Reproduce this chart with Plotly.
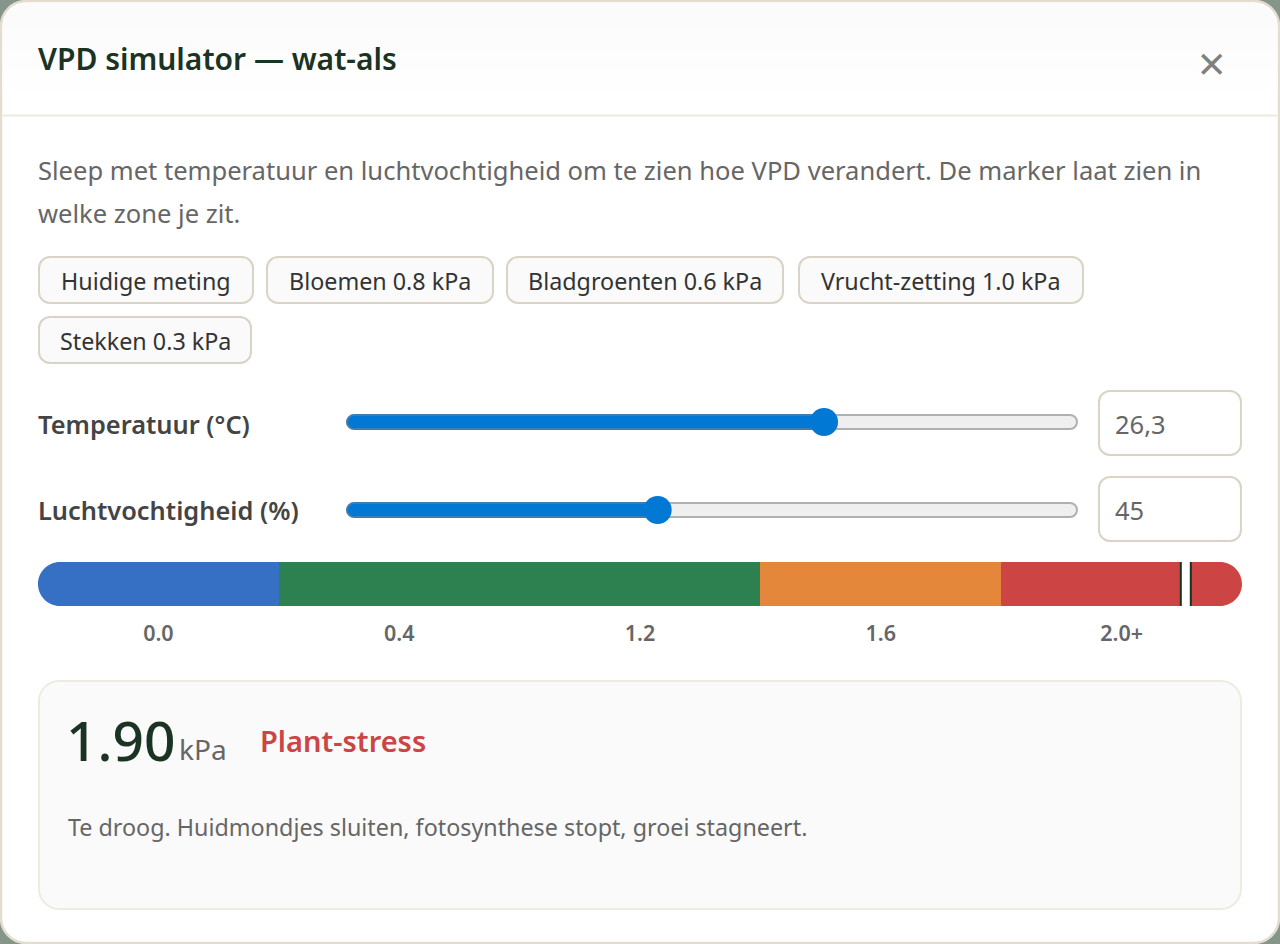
import plotly.graph_objects as go

# zones on the VPD bar (kPa)
zone_names = ["Te vochtig", "Optimaal", "Hoog", "Plant-stress"]
zone_widths = [0.4, 0.8, 0.4, 0.4]
zone_colors = ["#3570c4", "#2d8050", "#e5873a", "#cc4444"]
scale_labels = ["0.0", "0.4", "1.2", "1.6", "2.0+"]
current_vpd = 1.90

temperature = 26.3
temperature_text = "26,3"
temperature_range = [10.2, 35]
humidity = 45
humidity_text = "45"
humidity_range = [16.1, 85]

chips_row1 = ["Huidige meting", "Bloemen 0.8 kPa", "Bladgroenten 0.6 kPa", "Vrucht-zetting 1.0 kPa"]
chips_row2 = ["Stekken 0.3 kPa"]

FONT = "Noto Sans"
DARK = "#1a3322"
GRAY = "#666666"
BLUE = "#0078d4"
BLUE_EDGE = "#3d7db5"
K = 0.45


def rrect(x0, y0, x1, y1, r, fill, line=None, width=2, layer="below"):
    c = r * K
    path = (f"M{x0+r},{y0} L{x1-r},{y0} C{x1-c},{y0} {x1},{y0+c} {x1},{y0+r} L{x1},{y1-r} "
            f"C{x1},{y1-c} {x1-c},{y1} {x1-r},{y1} L{x0+r},{y1} C{x0+c},{y1} {x0},{y1-c} {x0},{y1-r} "
            f"L{x0},{y0+r} C{x0},{y0+c} {x0+c},{y0} {x0+r},{y0} Z")
    return dict(type="path", path=path, xref="x", yref="y", fillcolor=fill, layer=layer,
                line=dict(color=line or fill, width=width if line else 0))


def label(x, y, text, size, color, anchor="left", weight=400):
    # annotations sit about 2px right and 1px low of the given point
    return dict(x=x - 2 if anchor == "left" else x, y=y - 1, xref="x", yref="y", text=text, showarrow=False,
                xanchor=anchor, yanchor="middle", font=dict(family=FONT, size=size, color=color, weight=weight))


def slider_cap(y0, y1):
    # left end of a slider fill, the bar itself starts at x=354
    ym = (y0 + y1) / 2
    return [
        dict(type="path", path=f"M354,{y0} C350,{y0} 347,{ym-3} 347,{ym} C347,{ym+3} 350,{y1} 354,{y1}",
             xref="x", yref="y", fillcolor=BLUE, layer="below", line=dict(color=BLUE_EDGE, width=2)),
        # hides the left edge line of the bar
        dict(type="rect", xref="x", yref="y", x0=352, x1=358, y0=y0 + 1, y1=y1 - 1, fillcolor=BLUE, layer="above",
             line=dict(width=0)),
    ]


shapes = [
    rrect(1, 1, 1279, 943, 25, "#ffffff", "#e4ddcf", 2.5),
    # faint header gradient
    dict(type="path", path="M3,28 C3,14 14,3 28,3 L1252,3 C1266,3 1277,14 1277,28 Z", xref="x", yref="y",
         fillcolor="#fbfbfb", layer="below", line=dict(width=0)),
    dict(type="rect", xref="x", yref="y", x0=3, x1=1277, y0=28, y1=50, fillcolor="#fcfcfc", layer="below", line=dict(width=0)),
    dict(type="rect", xref="x", yref="y", x0=3, x1=1277, y0=50, y1=70, fillcolor="#fdfdfd", layer="below", line=dict(width=0)),
    dict(type="rect", xref="x", yref="y", x0=3, x1=1277, y0=70, y1=90, fillcolor="#fefefe", layer="below", line=dict(width=0)),
    dict(type="line", xref="x", yref="y", x0=2, x1=1278, y0=115.5, y1=115.5, layer="below",
         line=dict(color="#efeadf", width=2)),
    rrect(39, 681, 1241, 909, 20, "#fafafa", "#efebe0", 2),
    rrect(1099, 391, 1241, 455, 11, "#ffffff", "#d9d4c6", 2),
    rrect(1099, 477, 1241, 541, 11, "#ffffff", "#d9d4c6", 2),
    # slider tracks
    rrect(347, 415, 1077, 429, 7, "#efefef", "#b0b0b0", 2),
    rrect(347, 503, 1077, 517, 7, "#efefef", "#b0b0b0", 2),
    *slider_cap(415, 429),
    *slider_cap(503, 517),
    # rounded ends of the zone bar
    dict(type="path", path="M37,561 L60,561 L60,562 C47.85,562 38,571.85 38,584 C38,596.15 47.85,606 60,606 L60,607 L37,607 Z",
         xref="x", yref="y", fillcolor="#ffffff", layer="above", line=dict(width=0)),
    dict(type="path", path="M1243,561 L1220,561 L1220,562 C1232.15,562 1242,571.85 1242,584 C1242,596.15 1232.15,606 1220,606 L1220,607 L1243,607 Z",
         xref="x", yref="y", fillcolor="#ffffff", layer="above", line=dict(width=0)),
    # marker on the kPa axis
    dict(type="rect", xref="x2", yref="y2", xsizemode="pixel", xanchor=current_vpd, x0=-2, x1=10, y0=-0.5, y1=0.5,
         fillcolor=DARK, layer="above", line=dict(width=0)),
    dict(type="rect", xref="x2", yref="y2", xsizemode="pixel", xanchor=current_vpd, x0=0, x1=8, y0=-0.5, y1=0.5,
         fillcolor="#ffffff", layer="above", line=dict(width=0)),
]

annotations = [
    label(38, 59, "VPD simulator — wat-als", 30, DARK, weight=600),
    label(1211, 63, "×", 48, "#808080", "center"),
    label(38, 171, "Sleep met temperatuur en luchtvochtigheid om te zien hoe VPD verandert. De marker laat zien in", 25.55, GRAY),
    label(38, 214, "welke zone je zit.", 25.55, GRAY),
    label(38, 425, "Temperatuur (°C)", 25.4, "#444444", weight=600),
    label(38, 511, "Luchtvochtigheid (%)", 25.4, "#444444", weight=600),
    label(1115, 425, temperature_text, 25.5, GRAY),
    label(1115, 511, humidity_text, 25.5, GRAY),
    label(66, 740, f"{current_vpd:.2f}", 55, DARK, weight=500),
    label(179, 750, "kPa", 28, GRAY),
    label(260, 741, zone_names[3], 29, "#cc4444", weight=600),
    label(68, 828, "Te droog. Huidmondjes sluiten, fotosynthese stopt, groei stagneert.", 23.3, GRAY),
]

# chips, left and right edges as measured
for text, x0, x1 in zip(chips_row1, [39, 267, 507, 799], [253, 493, 783, 1083]):
    shapes.append(rrect(x0, 257, x1, 303, 11, "#fafafa", "#d9d4c6", 2))
    annotations.append(label((x0 + x1) / 2, 282, text, 23.3, "#333333", "center"))
shapes.append(rrect(39, 317, 251, 363, 11, "#fafafa", "#d9d4c6", 2))
annotations.append(label(145, 342, chips_row2[0], 23.3, "#333333", "center"))

fig = go.Figure()

# zone bar, x axis is kPa
for name, width, color in zip(zone_names, zone_widths, zone_colors):
    fig.add_trace(go.Bar(x=[width], y=[0], orientation="h", name=name, marker=dict(color=color, line=dict(width=0)),
                         xaxis="x2", yaxis="y2", width=1, hoverinfo="skip"))


def add_slider(value, value_range, xaxis, yaxis):
    fig.add_trace(go.Bar(x=[value - value_range[0]], base=[value_range[0]], y=[0], orientation="h", width=0.875,
                         marker=dict(color=BLUE, line=dict(color=BLUE_EDGE, width=2)),
                         xaxis=xaxis, yaxis=yaxis, hoverinfo="skip"))
    fig.add_trace(go.Scatter(x=[value], y=[0], mode="markers", cliponaxis=False,
                             marker=dict(color=BLUE, size=28, line=dict(width=0)),
                             xaxis=xaxis, yaxis=yaxis, hoverinfo="skip"))


add_slider(temperature, temperature_range, "x3", "y3")
add_slider(humidity, humidity_range, "x4", "y4")

W, H = 1280.0, 944.0


def dom_x(a, b):
    return [a / W, b / W]


def dom_y(top, bottom):
    return [1 - bottom / H, 1 - top / H]


hidden = dict(visible=False, fixedrange=True)
fig.update_layout(
    width=1280, height=944, margin=dict(l=0, r=0, t=0, b=0), showlegend=False, barmode="stack",
    paper_bgcolor="#84958a", plot_bgcolor="rgba(0,0,0,0)",
    xaxis=dict(hidden, domain=[0, 1], range=[0, W]),
    yaxis=dict(hidden, domain=[0, 1], range=[H, 0]),
    xaxis2=dict(domain=dom_x(38, 1242), range=[0, 2.0], anchor="y2", fixedrange=True, showgrid=False, zeroline=False,
                showline=False, tickmode="array", tickvals=[0.2, 0.6, 1.0, 1.4, 1.8], ticktext=scale_labels,
                ticks="", ticklabelstandoff=12, tickfont=dict(family=FONT, size=21.5, color=GRAY, weight=600)),
    yaxis2=dict(hidden, domain=dom_y(562, 606), range=[-0.5, 0.5], anchor="x2"),
    xaxis3=dict(hidden, domain=dom_x(354, 1078), range=temperature_range, anchor="y3"),
    yaxis3=dict(hidden, domain=dom_y(414, 430), range=[-0.5, 0.5], anchor="x3"),
    xaxis4=dict(hidden, domain=dom_x(354, 1078), range=humidity_range, anchor="y4"),
    yaxis4=dict(hidden, domain=dom_y(502, 518), range=[-0.5, 0.5], anchor="x4"),
    shapes=shapes, annotations=annotations,
)

# keeps the page-sized axes in the figure
fig.add_trace(go.Scatter(x=[0], y=[0], mode="markers", marker=dict(opacity=0), hoverinfo="skip"))

fig.write_html("out.html", config=dict(displayModeBar=False), post_script="document.body.style.margin='0';")
